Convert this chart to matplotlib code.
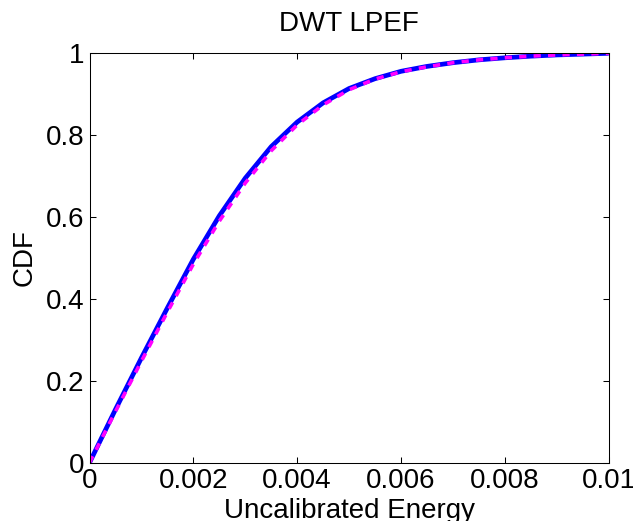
import matplotlib
matplotlib.use("Agg")
import matplotlib.pyplot as plt
import numpy as np

plt.rcParams["font.family"] = ["Liberation Sans", "DejaVu Sans"]

# empirical CDF of the energy and its fitted counterpart
energy = [0, 0.0005, 0.001, 0.0015, 0.002, 0.0025, 0.003, 0.0035, 0.004, 0.0045,
          0.005, 0.0055, 0.006, 0.0065, 0.007, 0.0075, 0.008, 0.0085, 0.009,
          0.0095, 0.01]
cdf_empirical = [0, 0.13, 0.256, 0.378, 0.497, 0.603, 0.695, 0.772, 0.832, 0.879,
                 0.914, 0.938, 0.956, 0.968, 0.977, 0.984, 0.989, 0.993, 0.996,
                 0.998, 1.0]
cdf_fit = [0, 0.125, 0.248, 0.368, 0.485, 0.59, 0.683, 0.762, 0.825, 0.874,
           0.911, 0.937, 0.955, 0.967, 0.977, 0.984, 0.989, 0.993, 0.996,
           0.998, 1.0]
xticks = [0, 0.002, 0.004, 0.006, 0.008, 0.01]
xtick_labels = ["0", "0.002", "0.004", "0.006", "0.008", "0.01"]
yticks = [0, 0.2, 0.4, 0.6, 0.8, 1]
ytick_labels = ["0", "0.2", "0.4", "0.6", "0.8", "1"]

fig = plt.figure(figsize=(6.33, 5.21), dpi=100)
ax = fig.add_axes([0.1414, 0.1119, 0.8202, 0.7858])

ax.plot(energy, cdf_empirical, color="#0000ff", lw=3.4, solid_capstyle="butt")
ax.plot(energy, cdf_fit, color="#ff00ff", lw=2.6, dashes=(2, 2))

ax.set_xlim(0, 0.01)
ax.set_ylim(0, 1)
ax.set_xticks(xticks, xtick_labels)
ax.set_yticks(yticks, ytick_labels)
ax.tick_params(direction="in", length=4.5, width=0.75, labelsize=20,
               top=True, right=True)
ax.tick_params(axis="x", pad=4)
ax.tick_params(axis="y", pad=3.5)
for s in ax.spines.values():
    s.set_linewidth(0.75)

ax.set_title("DWT LPEF", fontsize=20, pad=16)
ax.set_xlabel("Uncalibrated Energy", fontsize=20, labelpad=3)
ax.set_ylabel("CDF", fontsize=20, labelpad=6)

fig.savefig("out.png", dpi=100)
plt.close(fig)
